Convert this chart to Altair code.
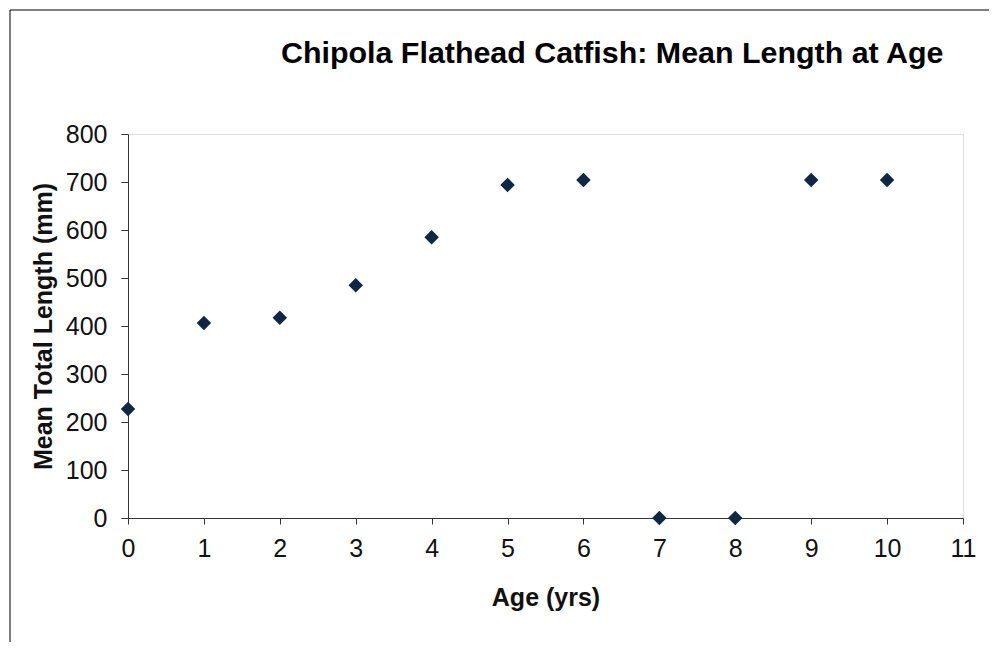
import altair as alt
import pandas as pd

ages = [0, 1, 2, 3, 4, 5, 6, 7, 8, 9, 10]
mean_length = [227, 406, 417, 485, 585, 694, 704, 0, 0, 704, 704]
title_text = "Chipola Flathead Catfish: Mean Length at Age"

df = pd.DataFrame({"age": ages, "length": mean_length})
one_row = pd.DataFrame({"t": [title_text]})

FONT = "Liberation Sans"

points = alt.Chart(df).mark_point(
    shape="diamond", filled=True, size=210, color="#0e2744", opacity=1
).encode(
    x=alt.X("age:Q",
            scale=alt.Scale(domain=[0, 11], nice=False, zero=False),
            axis=alt.Axis(title="Age (yrs)", values=list(range(12)), format="d",
                          grid=False, tickSize=6, tickColor="#333", domainColor="#333",
                          labelFlush=False, labelOverlap=False,
                          labelFontSize=25, labelFont=FONT, labelColor="#111",
                          labelPadding=12, titleFont=FONT, titleFontSize=25,
                          titleFontWeight="bold", titleColor="#111", titlePadding=24)),
    y=alt.Y("length:Q",
            scale=alt.Scale(domain=[0, 800], nice=False),
            axis=alt.Axis(title="Mean Total Length (mm)", values=list(range(0, 801, 100)),
                          grid=False, tickSize=7, tickColor="#333", domainColor="#333",
                          labelFlush=False, labelOverlap=False,
                          labelFontSize=25, labelFont=FONT, labelColor="#111",
                          labelPadding=14, titleFont=FONT, titleFontSize=25,
                          titleFontWeight="bold", titleColor="#111", titlePadding=9)),
)

frame = alt.Chart(one_row).mark_rect(fill="transparent", stroke="#000", strokeWidth=1).encode(
    x=alt.value(-118), x2=alt.value(1000), y=alt.value(-124), y2=alt.value(800)
)

title = alt.Chart(one_row).mark_text(
    font=FONT, fontSize=30.4, fontWeight="bold", color="#000",
    align="left", baseline="alphabetic"
).encode(text="t:N", x=alt.value(153), y=alt.value(-71))

chart = alt.layer(frame, points, title).properties(
    width=835,
    height=384,
    padding={"left": 120, "top": 126, "right": 26, "bottom": 124},
    autosize=alt.AutoSizeParams(type="none"),
).configure_view(stroke="#888", strokeWidth=1.5).configure(background="white")

chart.save("out.html", embed_options={"renderer": "svg", "actions": False})
